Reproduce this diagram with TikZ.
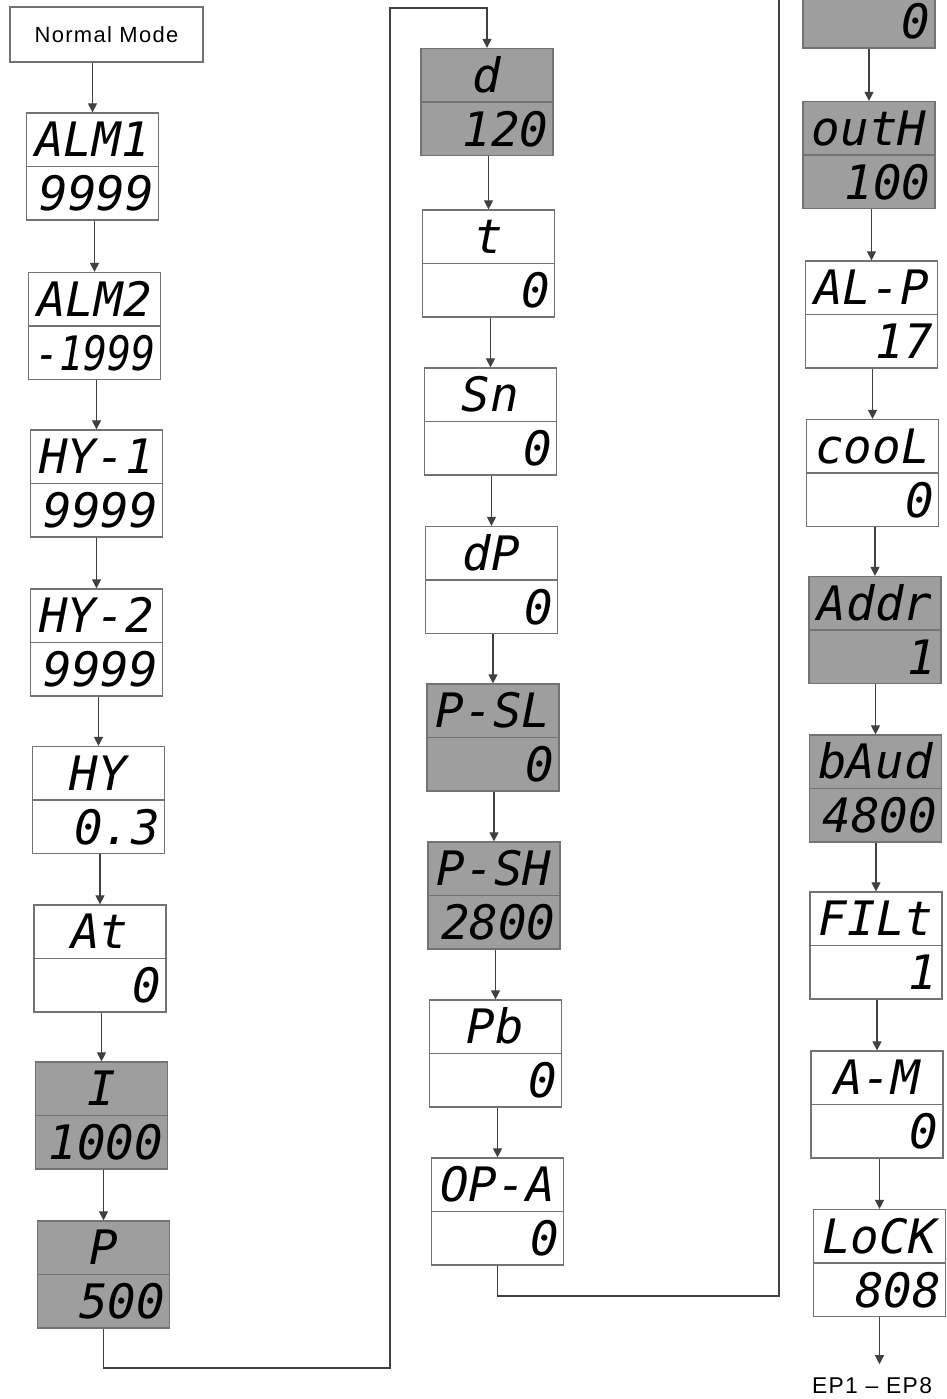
\documentclass[tikz,border=0pt]{standalone}
\usepackage{fontspec}
\usepackage{xcolor}
\usepackage{graphicx}
\usepackage{tikz}
\usetikzlibrary{arrows.meta}
\setsansfont{Liberation Sans}
\newfontfamily\segfont{DejaVu Sans Mono}
\newfontfamily\menufont[LetterSpace=6]{Liberation Sans}
\definecolor{lcdgray}{RGB}{158,158,158}
\definecolor{framegray}{RGB}{115,115,115}

\begin{document}
\begin{tikzpicture}[x=0.2mm,y=-0.2mm,
  lcd/.style={draw=framegray,line width=0.7pt,minimum width=26.4mm,minimum height=21.4mm,inner sep=0pt},
  dark/.style={lcd,fill=lcdgray},
  seg/.style={font=\segfont\itshape\fontsize{27}{27}\selectfont,inner sep=0pt,text height=19.5pt,text depth=0pt},
  flow/.style={draw=black!75,line width=0.6pt,-{Triangle[width=1.8mm,length=1.8mm]}}]
  \path[use as bounding box,clip] (0,0) rectangle (947,1399);
  % Start box
  \node[draw=framegray,line width=0.7pt,minimum width=38.6mm,minimum height=11mm,
    font=\menufont\fontsize{12.5}{14}\selectfont,text=black] (nm) at (106.5,34.5) {Normal Mode};
  % Display boxes, one column after the other
  \foreach \n/\x/\y/\s/\lbl/\num in {
      alma/92.5/166.5/lcd/ALM1/9999, almb/94.5/326/lcd/ALM2/\scalebox{0.84}[1]{-1999},
      hya/96.5/483.5/lcd/HY-1/9999, hyb/96.5/642.5/lcd/HY-2/9999,
      hy/98.5/800/lcd/HY/0.3, at/100/958.5/lcd/At/0,
      ii/101.5/1115.5/dark/I/1000, pp/103.5/1274.5/dark/P/500,
      dd/487/102/dark/d/120, tt/488.5/263.5/lcd/t/0,
      sn/490.5/421.5/lcd/Sn/0, dp/491.5/580/lcd/dP/0,
      psl/493/737.5/dark/P-SL/0, psh/494/895.5/dark/P-SH/2800,
      pb/495.5/1053.5/lcd/Pb/0, opa/497.5/1211.5/lcd/OP-A/0,
      top/869/-5.5/dark//0, outh/869/155/dark/outH/100,
      alp/871.5/314.5/lcd/AL-P/17, cool/872.5/473/lcd/cooL/0,
      addr/875/630/dark/Addr/1, baud/875.5/788.5/dark/bAud/4800,
      filt/876/945.5/lcd/FILt/1, am/877/1104.5/lcd/A-M/0,
      lock/879.5/1263/lcd/LoCK/808} {
    \node[\s] (\n) at (\x,\y) {};
    \draw[framegray,line width=0.7pt] (\n.west) -- (\n.east);
    \node[seg] (\n-t) at ([yshift=5.4mm]\n.center) {\lbl};
    \node[seg,anchor=east] (\n-v) at ([xshift=-1mm,yshift=-5.4mm]\n.east) {\num};
  }
  % Arrows inside the columns
  \foreach \a/\b in {nm/alma, alma/almb, almb/hya, hya/hyb, hyb/hy, hy/at, at/ii, ii/pp,
      dd/tt, tt/sn, sn/dp, dp/psl, psl/psh, psh/pb, pb/opa,
      top/outh, outh/alp, alp/cool, cool/addr, addr/baud, baud/filt, filt/am, am/lock}
    \draw[flow] (\b.north |- \a.south) -- (\b.north);
  % Links between the columns
  \coordinate (k1) at (390,1368);
  \coordinate (k2) at (390,8);
  \coordinate (k3) at (779,1296);
  \coordinate (k4) at (779,-30);
  \draw[flow] (pp.south) |- (k1) -- (k2) -| (dd.north);
  \draw[draw=black!75,line width=0.6pt] (opa.south) |- (k3) -- (k4);
  % End of the list
  \node[font=\menufont\fontsize{13}{15}\selectfont,text=black] (ep) at (872,1386) {EP1 – EP8};
  \draw[flow,shorten >=1.5mm] (lock) -- (lock |- ep.north);
\end{tikzpicture}
\end{document}
